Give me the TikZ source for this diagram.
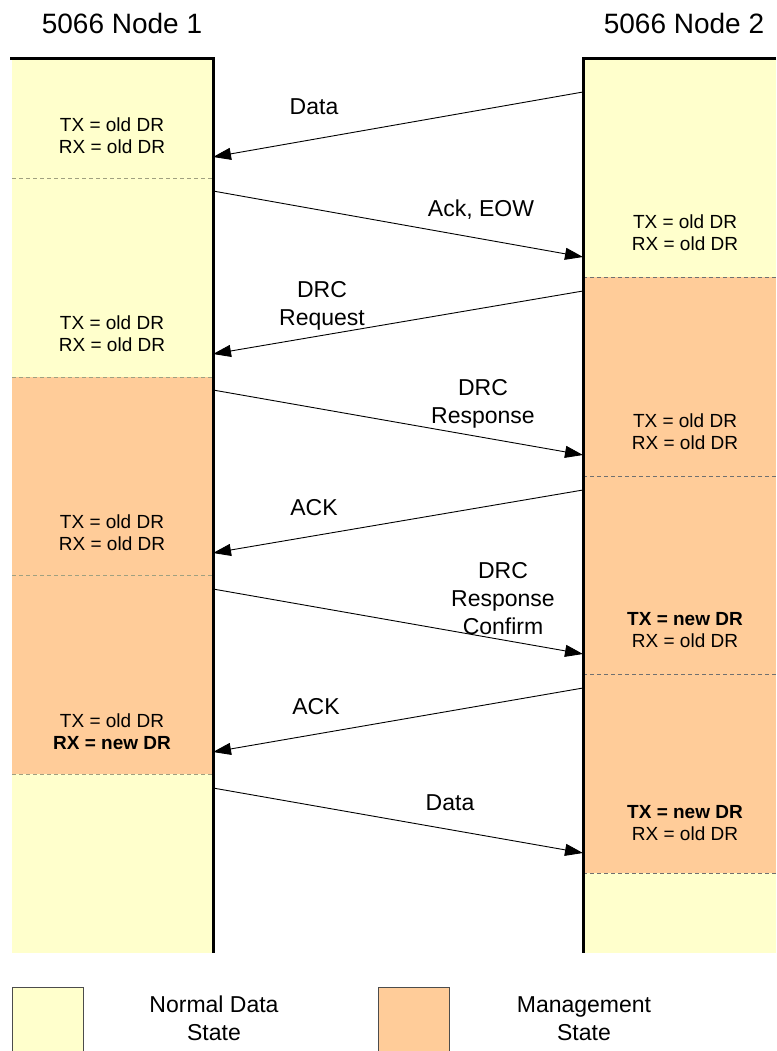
\documentclass[tikz,border=0pt]{standalone}
\usepackage{fontspec}
\setmainfont{Liberation Sans}
\usetikzlibrary{arrows.meta}
\definecolor{normal}{HTML}{FFFFCC}
\definecolor{mgmt}{HTML}{FFCC99}
\definecolor{dashl}{HTML}{A0A080}
\definecolor{dashr}{HTML}{707070}
\tikzset{
  life/.style={line width=3pt},
  msg/.style={line width=0.9pt,-{Triangle[length=18pt,width=12pt]}},
  seplineL/.style={dashl,dashed,line width=0.8pt,dash pattern=on 4pt off 3pt},
  seplineR/.style={dashr,dashed,line width=0.8pt,dash pattern=on 4pt off 3pt},
  state/.style={align=center,font=\fontsize{19}{22}\selectfont,inner sep=0pt,yshift=-1.5pt},
  msglabel/.style={align=center,font=\fontsize{23}{28}\selectfont,inner sep=0pt,yshift=-1.5pt},
  title/.style={font=\fontsize{28}{32}\selectfont,inner sep=0pt},
  legendbox/.style={draw=black!70,line width=0.8pt,minimum width=71pt,minimum height=70pt,anchor=north west,inner sep=0pt},
}
\begin{document}
\begin{tikzpicture}[x=1pt,y=-1pt]
\useasboundingbox (0,0) rectangle (776,1051);
% fills left
\fill[normal] (12,59) rectangle (213,377);
\fill[mgmt] (12,377) rectangle (213,774);
\fill[normal] (12,774) rectangle (213,953);
% fills right
\fill[normal] (583,59) rectangle (776,277);
\fill[mgmt] (583,277) rectangle (776,873);
\fill[normal] (583,873) rectangle (776,953);
% separators
\foreach \y in {178,377,575,774} \draw[seplineL] (12,\y) -- (213,\y);
\foreach \y in {277,476,674,873} \draw[seplineR] (583,\y) -- (776,\y);
% lifelines
\coordinate (l0) at (10,59);
\coordinate (ltop) at (213,59);
\coordinate (lbot) at (213,953);
\coordinate (rtop) at (583,59);
\coordinate (rbot) at (583,953);
\coordinate (r0) at (776,59);
\draw[life] (l0) -- (ltop) -- (lbot);
\draw[life] (r0) -- (rtop) -- (rbot);
% titles
\node[title] (t1) at (122,23) {5066 Node 1};
\node[title] (t2) at (684,23) {5066 Node 2};
% state labels left
\node[state] (sl1) at (112,134) {TX = old DR\\RX = old DR};
\node[state] (sl2) at (112,332) {TX = old DR\\RX = old DR};
\node[state] (sl3) at (112,531) {TX = old DR\\RX = old DR};
\node[state] (sl4) at (112,730) {TX = old DR\\\textbf{RX = new DR}};
% state labels right
\node[state] (sr1) at (685,231) {TX = old DR\\RX = old DR};
\node[state] (sr2) at (685,430) {TX = old DR\\RX = old DR};
\node[state] (sr3) at (685,629) {\textbf{TX = new DR}\\RX = old DR};
\node[state] (sr4) at (685,822) {\textbf{TX = new DR}\\RX = old DR};
% message endpoints
\coordinate (a1s) at (583,92);  \coordinate (a1e) at (213,157);
\coordinate (a2s) at (213,191); \coordinate (a2e) at (583,257);
\coordinate (a3s) at (583,291); \coordinate (a3e) at (213,354);
\coordinate (a4s) at (213,390); \coordinate (a4e) at (583,455);
\coordinate (a5s) at (583,490); \coordinate (a5e) at (213,553);
\coordinate (a6s) at (213,589); \coordinate (a6e) at (583,654);
\coordinate (a7s) at (583,688); \coordinate (a7e) at (213,752);
\coordinate (a8s) at (213,788); \coordinate (a8e) at (583,853);
\draw[msg] (a1s) -- (a1e);
\draw[msg] (a2s) -- (a2e);
\draw[msg] (a3s) -- (a3e);
\draw[msg] (a4s) -- (a4e);
\draw[msg] (a5s) -- (a5e);
\draw[msg] (a6s) -- (a6e);
\draw[msg] (a7s) -- (a7e);
\draw[msg] (a8s) -- (a8e);
% message labels
\node[msglabel] (m1) at (314,105) {Data};
\node[msglabel] (m2) at (481,208) {Ack, EOW};
\node[msglabel] (m3) at (322,304) {DRC\\Request};
\node[msglabel] (m4) at (483,402) {DRC\\Response};
\node[msglabel] (m5) at (314,506) {ACK};
\node[msglabel] (m6) at (503,597) {DRC\\Response\\Confirm};
\node[msglabel] (m7) at (316,705) {ACK};
\node[msglabel] (m8) at (450,801) {Data};
% legend
\node[legendbox,fill=normal] (lg1) at (12,987) {};
\node[legendbox,fill=mgmt] (lg2) at (378,987) {};
\node[msglabel] (lt1) at (214,1017) {Normal Data\\State};
\node[msglabel] (lt2) at (584,1017) {Management\\State};
\end{tikzpicture}
\end{document}
